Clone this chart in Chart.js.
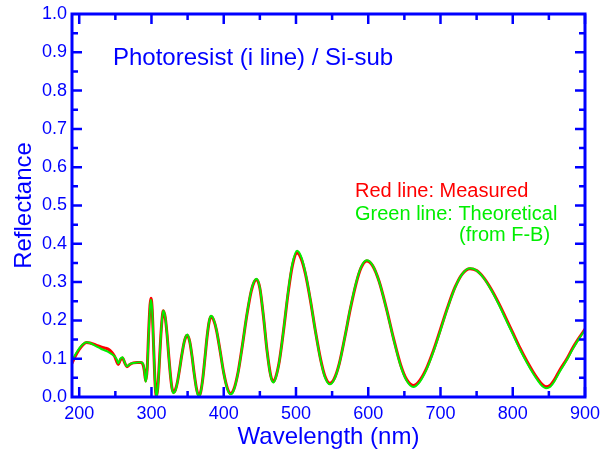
<!DOCTYPE html>
<html>
<head>
<meta charset="utf-8">
<script src="https://cdn.jsdelivr.net/npm/chart.js@4.4.1/dist/chart.umd.min.js"></script>
<style>
  html, body { margin: 0; padding: 0; background: #fff; }
  #wrap { width: 600px; height: 454px; }
</style>
</head>
<body>
<div id="wrap"><canvas id="reflChart" width="600" height="454"></canvas></div>
<script>
// wavelength (nm) and reflectance
const wavelengths = [
  190, 195, 200, 205, 210, 215, 220, 225, 230, 235, 240, 245, 249, 252, 254, 257, 260, 263, 266, 270,
  275, 280, 285, 288, 290, 292, 294, 296, 298, 299.3, 301, 303, 305, 306.8, 308.5, 310.5, 312.5, 314.5, 316.3, 319,
  321.5, 324, 326.5, 328.5, 330.5, 333, 336, 339, 342, 345, 347.5, 349.6, 353, 356, 359, 362, 364, 365.8, 368, 371,
  374, 377, 380, 382.4, 386, 390, 395, 400, 405, 409.6, 414, 420, 426, 432, 438, 442, 445.6, 450, 455, 460,
  465, 468.6, 472, 477, 483, 489, 495, 501.5, 507, 513, 520, 527, 534, 540, 547, 553, 560, 568, 575, 583,
  590, 597.8, 606, 615, 625, 635, 645, 653, 662.4, 670, 680, 690, 700, 710, 720, 730, 740.8, 750, 760, 770,
  780, 790, 800, 810, 820, 828, 835, 841, 846, 852, 858, 865, 875, 883, 892, 900
];
const measured = [
  0.088, 0.108, 0.124, 0.136, 0.142, 0.141, 0.138, 0.134, 0.131, 0.128, 0.125, 0.117, 0.106, 0.092, 0.085, 0.097, 0.102, 0.089, 0.079, 0.085,
  0.089, 0.090, 0.090, 0.086, 0.070, 0.042, 0.072, 0.165, 0.240, 0.258, 0.228, 0.130, 0.035, 0.002, 0.020, 0.076, 0.146, 0.200, 0.225, 0.208,
  0.164, 0.105, 0.052, 0.022, 0.012, 0.018, 0.040, 0.074, 0.110, 0.141, 0.157, 0.161, 0.144, 0.108, 0.063, 0.025, 0.009, 0.003, 0.012, 0.048,
  0.102, 0.158, 0.198, 0.210, 0.201, 0.174, 0.120, 0.063, 0.023, 0.009, 0.020, 0.066, 0.137, 0.214, 0.276, 0.300, 0.307, 0.284, 0.210, 0.120,
  0.056, 0.040, 0.052, 0.094, 0.177, 0.270, 0.343, 0.376, 0.362, 0.322, 0.252, 0.171, 0.099, 0.055, 0.036, 0.048, 0.088, 0.160, 0.228, 0.295,
  0.337, 0.355, 0.343, 0.302, 0.232, 0.153, 0.083, 0.046, 0.030, 0.040, 0.072, 0.120, 0.177, 0.235, 0.286, 0.321, 0.335, 0.330, 0.311, 0.282,
  0.247, 0.208, 0.168, 0.128, 0.092, 0.066, 0.046, 0.032, 0.027, 0.031, 0.046, 0.070, 0.100, 0.128, 0.155, 0.177
];
const theoretical = [
  0.096, 0.112, 0.127, 0.138, 0.143, 0.141, 0.136, 0.131, 0.126, 0.122, 0.118, 0.112, 0.106, 0.098, 0.088, 0.100, 0.104, 0.090, 0.080, 0.086,
  0.089, 0.090, 0.091, 0.088, 0.072, 0.040, 0.070, 0.160, 0.235, 0.254, 0.226, 0.130, 0.035, 0.000, 0.018, 0.074, 0.145, 0.201, 0.226, 0.209,
  0.165, 0.105, 0.051, 0.020, 0.010, 0.016, 0.039, 0.073, 0.110, 0.142, 0.158, 0.163, 0.145, 0.108, 0.062, 0.023, 0.007, 0.001, 0.011, 0.047,
  0.102, 0.159, 0.200, 0.212, 0.203, 0.175, 0.120, 0.062, 0.021, 0.007, 0.018, 0.065, 0.137, 0.215, 0.278, 0.302, 0.309, 0.285, 0.211, 0.119,
  0.054, 0.038, 0.050, 0.093, 0.178, 0.273, 0.348, 0.382, 0.367, 0.325, 0.253, 0.170, 0.097, 0.052, 0.033, 0.046, 0.087, 0.160, 0.230, 0.297,
  0.339, 0.357, 0.344, 0.302, 0.231, 0.151, 0.080, 0.043, 0.026, 0.036, 0.069, 0.117, 0.174, 0.233, 0.285, 0.321, 0.336, 0.330, 0.310, 0.280,
  0.244, 0.204, 0.164, 0.124, 0.088, 0.062, 0.042, 0.028, 0.023, 0.027, 0.042, 0.066, 0.097, 0.125, 0.153, 0.175
];
const xTicks = [200, 300, 400, 500, 600, 700, 800, 900];
const yTicks = [0.0, 0.1, 0.2, 0.3, 0.4, 0.5, 0.6, 0.7, 0.8, 0.9, 1.0];

const BLUE = '#0000ff';
const FONT = '"Liberation Sans", Arial, Helvetica, sans-serif';

function toPoints(ys) {
    return wavelengths.map((w, i) => ({ x: w, y: ys[i] }));
}

// box on all four sides with inward ticks, plus the free text
const framePlugin = {
    id: 'frame',
    afterDraw(chart) {
        const { ctx, chartArea: a } = chart;
        const x = chart.scales.x, y = chart.scales.y;
        ctx.save();
        ctx.strokeStyle = BLUE;
        ctx.lineWidth = 3;
        ctx.strokeRect(a.left, a.top, a.right - a.left, a.bottom - a.top);

        ctx.lineWidth = 2.5;
        ctx.beginPath();
        const xMarks = [];
        xTicks.forEach(v => {
            xMarks.push([v, 10]);
            if (v + 50 < x.max) xMarks.push([v + 50, 6]);
        });
        xMarks.forEach(([v, len]) => {
            const px = x.getPixelForValue(v);
            ctx.moveTo(px, a.bottom); ctx.lineTo(px, a.bottom - len);
            ctx.moveTo(px, a.top); ctx.lineTo(px, a.top + len);
        });
        const yMarks = [];
        yTicks.forEach((v, i) => {
            if (i > 0 && i < yTicks.length - 1) yMarks.push([v, 10]);
            if (i < yTicks.length - 1) yMarks.push([(v + yTicks[i + 1]) / 2, 6]);
        });
        yMarks.forEach(([v, len]) => {
            const py = y.getPixelForValue(v);
            ctx.moveTo(a.left, py); ctx.lineTo(a.left + len, py);
            ctx.moveTo(a.right, py); ctx.lineTo(a.right - len, py);
        });
        ctx.stroke();

        ctx.textBaseline = 'alphabetic';
        ctx.textAlign = 'left';
        ctx.fillStyle = BLUE;
        ctx.font = '24px ' + FONT;
        ctx.fillText('Photoresist (i line) / Si-sub', 113, 65);

        ctx.font = '20px ' + FONT;
        ctx.fillStyle = '#ff0000';
        ctx.fillText('Red line: Measured', 355, 197);
        ctx.fillStyle = '#00ee00';
        ctx.fillText('Green line: Theoretical', 355, 220);
        ctx.fillText('(from F-B)', 459, 241);

        // axis titles
        ctx.fillStyle = BLUE;
        ctx.font = '24px ' + FONT;
        ctx.textAlign = 'center';
        ctx.fillText('Wavelength (nm)', (a.left + a.right) / 2, 444);
        ctx.translate(31, (a.top + a.bottom) / 2);
        ctx.rotate(-Math.PI / 2);
        ctx.fillText('Reflectance', 0, 0);
        ctx.restore();
    }
};

new Chart(document.getElementById('reflChart').getContext('2d'), {
    type: 'line',
    data: {
        datasets: [{
            label: 'Measured',
            data: toPoints(measured),
            borderColor: '#ff0000',
            borderWidth: 3,
            pointRadius: 0,
            cubicInterpolationMode: 'monotone',
            order: 2
        }, {
            label: 'Theoretical',
            data: toPoints(theoretical),
            borderColor: '#00ee00',
            borderWidth: 2,
            pointRadius: 0,
            cubicInterpolationMode: 'monotone',
            order: 1
        }]
    },
    options: {
        responsive: false,
        animation: false,
        layout: { padding: { top: 14, right: 15, left: 0, bottom: 0 } },
        scales: {
            x: {
                type: 'linear',
                min: 190,
                max: 900,
                afterBuildTicks: s => { s.ticks = xTicks.map(v => ({ value: v })); },
                afterFit: s => { s.height = 57; s.paddingLeft = 0; s.paddingRight = 0; },
                ticks: {
                    color: BLUE,
                    font: { family: FONT, size: 18 },
                    padding: 6,
                    maxRotation: 0,
                    autoSkip: false,
                    callback: v => String(v)
                },
                grid: { display: false, drawTicks: false },
                border: { display: false }
            },
            y: {
                min: 0,
                max: 1,
                afterBuildTicks: s => { s.ticks = yTicks.map(v => ({ value: v })); },
                afterFit: s => { s.width = 72; s.paddingTop = 0; s.paddingBottom = 0; },
                ticks: {
                    color: BLUE,
                    font: { family: FONT, size: 18 },
                    padding: 5,
                    callback: v => v.toFixed(1)
                },
                grid: { display: false, drawTicks: false },
                border: { display: false }
            }
        },
        plugins: {
            legend: { display: false },
            tooltip: { enabled: false }
        }
    },
    plugins: [framePlugin]
});
</script>
</body>
</html>
